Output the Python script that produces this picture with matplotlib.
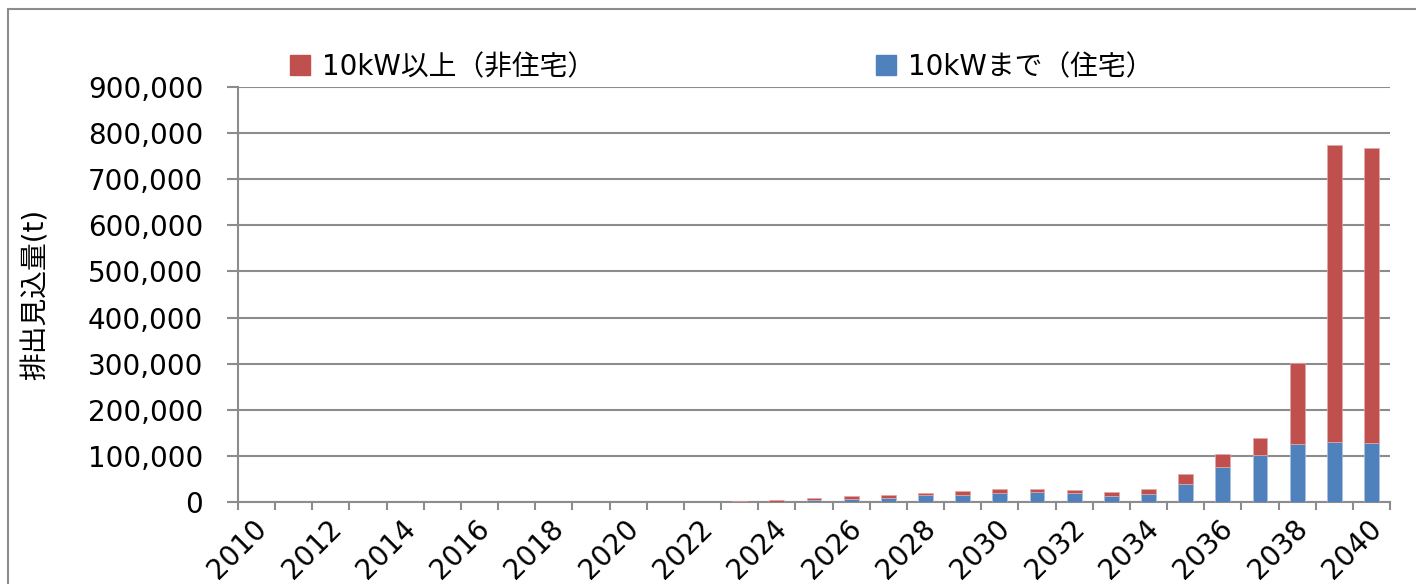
import matplotlib.pyplot as plt
import matplotlib.transforms as mtransforms
import numpy as np
from matplotlib.lines import Line2D
from matplotlib.patches import Rectangle
from matplotlib.ticker import FuncFormatter

plt.rcParams["font.family"] = ["DejaVu Sans", "Noto Sans CJK JP"]

RED, BLUE = "#c0504d", "#4f81bd"
GRID = "#8c8c8c"

years = list(range(2010, 2041))
# 10kWまで（住宅）
residential = [0] * 13 + [200, 500, 4000, 6500, 9000, 14500, 16000, 19500, 21000, 19000,
                          14000, 16500, 38000, 75000, 101000, 125000, 131000, 129000]
# 10kW以上（非住宅）
non_residential = [0] * 13 + [1500, 3000, 4500, 6500, 5500, 5000, 8000, 8500, 7000, 7000,
                              7700, 11500, 22000, 30000, 38000, 176000, 643000, 639000]
legend_labels = ["10kW以上（非住宅）", "10kWまで（住宅）"]
y_label = "排出見込量(t)"

fig = plt.figure(figsize=(14.16, 5.84), dpi=100)
ax = fig.add_axes([238 / 1416, 82 / 584, 1152 / 1416, 415 / 584])

# chart area border
fig.patches.append(Rectangle((8 / 1416, -0.1), 1.1, 1.1 - 9 / 584, transform=fig.transFigure,
                             fill=False, edgecolor=GRID, lw=1.5, zorder=0))

x = np.arange(len(years))
ax.bar(x, residential, width=0.4, color=BLUE, edgecolor="#a9c0df", lw=0.5, zorder=3)
ax.bar(x, non_residential, width=0.4, bottom=residential, color=RED,
       edgecolor="#e3a9a8", lw=0.5, zorder=3)

ax.set_xlim(-0.5, len(years) - 0.5)
ax.set_ylim(0, 900000)
ax.set_yticks(np.arange(0, 900001, 100000))
ax.yaxis.set_major_formatter(FuncFormatter(lambda v, p: f"{int(v):,}"))
ax.grid(axis="y", color=GRID, lw=1.5, zorder=0)
ax.set_axisbelow(True)

ax.set_xticks(x[::2])
ax.set_xticklabels([str(y) for y in years[::2]], rotation=45, ha="right",
                   rotation_mode="anchor")
ax.set_xticks(np.arange(-0.5, len(years)), minor=True)
ax.tick_params(axis="x", which="major", length=0, pad=9, labelsize=20)
ax.tick_params(axis="x", which="minor", length=6, width=1.5, color=GRID)
ax.tick_params(axis="y", length=8, width=1.5, color=GRID, pad=17, labelsize=20)
shift = mtransforms.ScaledTranslation(-4 / 100, 0, fig.dpi_scale_trans)
for lab in ax.get_xticklabels():
    lab.set_transform(lab.get_transform() + shift)

for side in ("top", "right"):
    ax.spines[side].set_visible(False)
for side in ("left", "bottom"):
    ax.spines[side].set_color(GRID)
    ax.spines[side].set_linewidth(1.5)

ax.set_ylabel(y_label, fontsize=20)
ax.yaxis.set_label_coords(-0.163, 0.5)

handles = [Line2D([], [], marker="s", ls="", color=RED, markersize=15),
           Line2D([], [], marker="s", ls="", color=BLUE, markersize=15)]
fig.legend(handles, legend_labels, loc="center left", bbox_to_anchor=(264 / 1416, 1 - 67 / 584),
           ncol=2, frameon=False, fontsize=20, handlelength=0.8, handletextpad=0.4,
           columnspacing=10.05)

plt.savefig("out.png", dpi=100)
